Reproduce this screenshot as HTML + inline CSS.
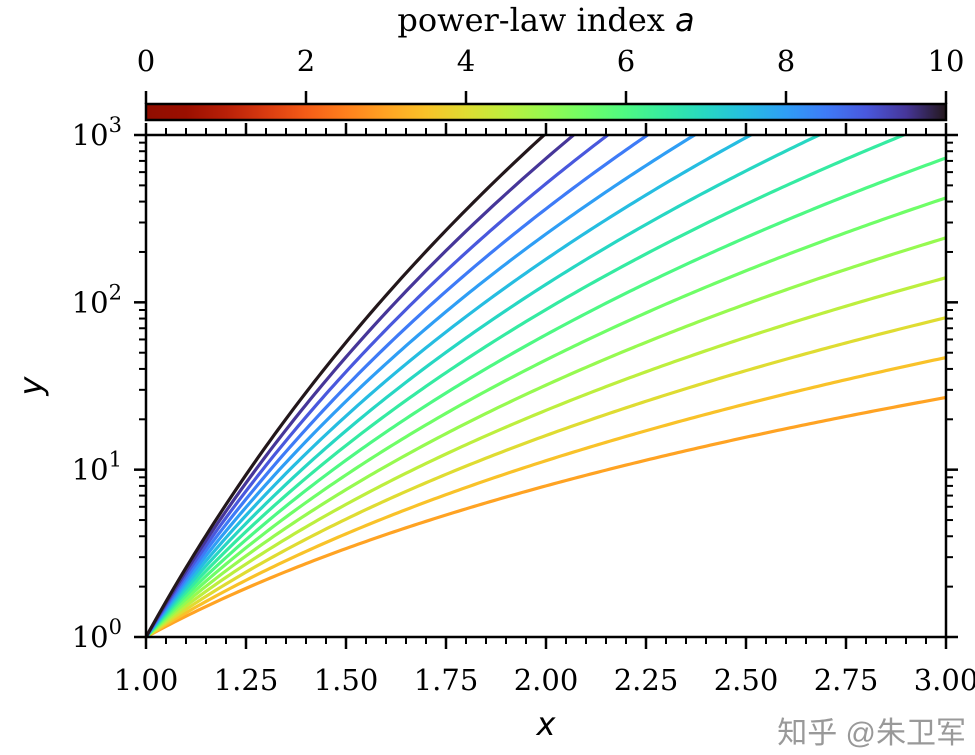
<!DOCTYPE html>
<html><head><meta charset="utf-8"><style>
body{margin:0;background:#fff}
svg text{font-family:"DejaVu Serif","Liberation Serif",serif;fill:#000}
</style></head><body>
<svg id="c" width="975" height="750" xmlns="http://www.w3.org/2000/svg">
<defs><clipPath id="pc"><rect x="146" y="135" width="800" height="502"/></clipPath>
<linearGradient id="cg" x1="0" x2="1" y1="0" y2="0"></linearGradient></defs>
</svg>
<script>
const indices=[3,3.5,4,4.5,5,5.5,6,6.5,7,7.5,8,8.5,9,9.5,10];
const xTicks=["1.00","1.25","1.50","1.75","2.00","2.25","2.50","2.75","3.00"];
const cbTicks=[0,2,4,6,8,10];
const yDecades=[0,1,2,3];
const NS="http://www.w3.org/2000/svg";
const svg=document.getElementById('c');
const L=146,R=946,T=135,B=637;
const sx=x=>L+(x-1)/2*(R-L);
const sy=v=>B-Math.log10(v)/3*(B-T);
function turbo(t){t=Math.max(0,Math.min(1,t));
const r=0.13572138+t*(4.61539260+t*(-42.66032258+t*(132.13108234+t*(-152.94239396+t*59.28637943))));
const g=0.09140261+t*(2.19418839+t*(4.84296658+t*(-14.18503333+t*(4.27729857+t*2.82956604))));
const b=0.10667330+t*(12.64194608+t*(-60.58204836+t*(110.36276771+t*(-89.90310912+t*27.34824973))));
const c=v=>Math.round(255*Math.max(0,Math.min(1,v)));return `rgb(${c(r)},${c(g)},${c(b)})`;}
const cmap=a=>turbo(1-a/10);
function el(tag,attrs,parent){const e=document.createElementNS(NS,tag);for(const k in attrs)e.setAttribute(k,attrs[k]);(parent||svg).appendChild(e);return e;}
const grad=document.getElementById('cg');
for(let i=0;i<=20;i++){el('stop',{offset:i/20,'stop-color':cmap(i/2)},grad);}
const cg=el('g',{'clip-path':'url(#pc)'});
indices.forEach(a=>{let d='';for(let i=0;i<=200;i++){const x=1+2*i/200;d+=(i?'L':'M')+sx(x).toFixed(2)+','+sy(Math.pow(x,a)).toFixed(2);}
const p=el('path',{d:d,fill:'none',stroke:cmap(a),'stroke-width':3.2},cg);

});
const fr=el('rect',{x:L,y:T,width:R-L,height:B-T,fill:'none',stroke:'#000','stroke-width':2.5});


for(let i=0;i<=40;i++){const x=1+i*0.05;const X=sx(x);const maj=i%5==0;const len=maj?12:7;
el('line',{x1:X,x2:X,y1:B,y2:B+len,stroke:'#000','stroke-width':maj?2.5:2});
el('line',{x1:X,x2:X,y1:T,y2:T-len,stroke:'#000','stroke-width':maj?2.5:2});}
xTicks.forEach((s,i)=>{const t=el('text',{x:sx(parseFloat(s)),y:690,'font-size':29,'text-anchor':'middle'});t.textContent=s;

});
for(let d=0;d<3;d++){for(let m=1;m<10;m++){const Y=sy(m*Math.pow(10,d));const maj=m==1;const len=maj?12:7;
el('line',{x1:L,x2:L-len,y1:Y,y2:Y,stroke:'#000','stroke-width':maj?2.5:2});
el('line',{x1:R,x2:R+len,y1:Y,y2:Y,stroke:'#000','stroke-width':maj?2.5:2});}}
el('line',{x1:L,x2:L-12,y1:T,y2:T,stroke:'#000','stroke-width':2.5});
el('line',{x1:R,x2:R+12,y1:T,y2:T,stroke:'#000','stroke-width':2.5});
yDecades.forEach(d=>{const t=el('text',{x:122,y:sy(Math.pow(10,d))+10,'font-size':29,'text-anchor':'end'});
t.innerHTML='10<tspan dy="-13" font-size="21">'+d+'</tspan>';

});
const xl=el('text',{x:546,y:735,'font-size':32,'text-anchor':'middle','font-style':'italic',style:'font-family:"DejaVu Sans",sans-serif'});xl.textContent='x';


const yl=el('text',{x:0,y:0,'font-size':32,'text-anchor':'middle','font-style':'italic',style:'font-family:"DejaVu Sans",sans-serif',transform:'translate(42,386) rotate(-90)'});yl.textContent='y';


const cb=el('rect',{x:L,y:104,width:R-L,height:16,fill:'url(#cg)',stroke:'#000','stroke-width':2.5});


const cx=v=>L+v/10*(R-L);
cbTicks.forEach(v=>{el('line',{x1:cx(v),x2:cx(v),y1:104,y2:91,stroke:'#000','stroke-width':2.5});
const t=el('text',{x:cx(v),y:71,'font-size':29,'text-anchor':'middle'});t.textContent=v;

});
const ct=el('text',{x:546,y:31,'font-size':32,'text-anchor':'middle'});
ct.innerHTML='power-law index <tspan font-style="italic" style="font-family:\'DejaVu Sans\',sans-serif">a</tspan>';


const wm=el('text',{x:966,y:743,'font-size':30,'text-anchor':'end',style:'font-family:"Liberation Sans","Noto Sans CJK SC",sans-serif;fill:#999'});
wm.textContent='知乎 @朱卫军';


</script>
</body></html>
